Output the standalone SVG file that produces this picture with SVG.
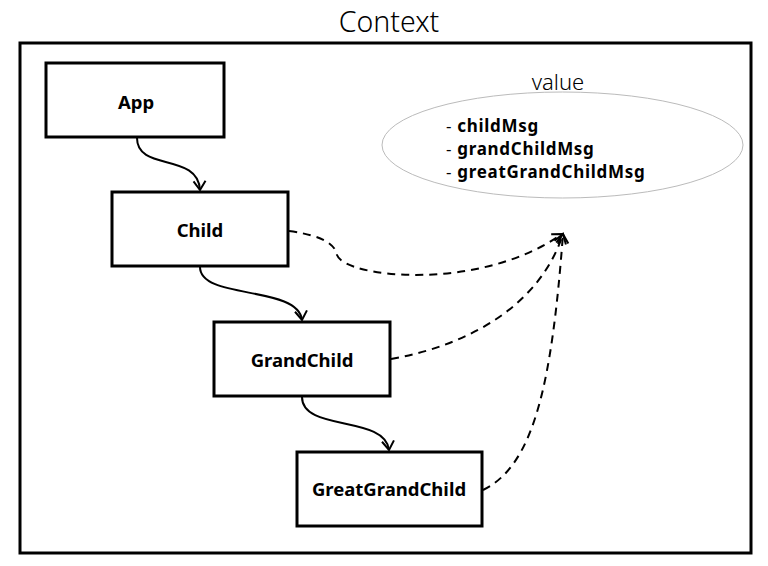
<svg xmlns="http://www.w3.org/2000/svg" width="768" height="566" viewBox="0 0 768 566">
<style>
.box{fill:#fff;stroke:#000;stroke-width:3}
.lbl{font-family:"Noto Sans","Open Sans",sans-serif;font-weight:bold;font-size:18.5px;fill:#000;text-anchor:middle}
.thin{font-family:"Noto Sans","Open Sans",sans-serif;font-weight:300;fill:#000;text-anchor:middle}
.solid{fill:none;stroke:#000;stroke-width:2;marker-end:url(#arr)}
.dash{fill:none;stroke:#000;stroke-width:2;stroke-dasharray:8 6;marker-end:url(#arr)}
.item{font-family:"Noto Sans","Open Sans",sans-serif;font-size:17px;letter-spacing:0.7px;fill:#000}
</style>
<defs>
<marker id="arr" markerUnits="userSpaceOnUse" markerWidth="20" markerHeight="20" viewBox="-12 -10 14 20" refX="0" refY="0" orient="auto">
<path d="M-9,-6 L0,0 L-9,6" fill="none" stroke="#000" stroke-width="2"/>
</marker>
</defs>
<rect width="768" height="566" fill="#fff"/>
<text class="thin" x="389" y="32" font-size="28.5">Context</text>
<rect x="20" y="43" width="731" height="510" fill="none" stroke="#000" stroke-width="3"/>
<g id="value">
<ellipse cx="562.5" cy="145" rx="180.5" ry="53" fill="#fff" stroke="#bbb" stroke-width="1"/>
<text class="thin" x="558" y="90" font-size="22">value</text>
<text class="item" x="446" y="132">- <tspan font-weight="bold">childMsg</tspan></text>
<text class="item" x="446" y="155">- <tspan font-weight="bold">grandChildMsg</tspan></text>
<text class="item" x="446" y="178">- <tspan font-weight="bold">greatGrandChildMsg</tspan></text>
</g>
<g id="App"><rect class="box" x="46" y="63" width="178" height="74"/><text class="lbl" x="136" y="109">App</text></g>
<g id="Child"><rect class="box" x="112" y="192" width="176" height="74"/><text class="lbl" x="200" y="237">Child</text></g>
<g id="GrandChild"><rect class="box" x="214" y="322" width="176" height="74"/><text class="lbl" x="302" y="367">GrandChild</text></g>
<g id="GreatGrandChild"><rect class="box" x="297" y="452" width="185" height="74"/><text class="lbl" x="389" y="496">GreatGrandChild</text></g>
<g id="connectors">
<path class="solid" d="M137,138 C137,172 198,152 200,190"/>
<path class="solid" d="M200,267 C200,300 298,285 302,320"/>
<path class="solid" d="M302,397 C302,432 385,415 389,450"/>
<path class="dash" d="M289,231 C325,236 335,245 337,255 C345,278 480,292 562,234"/>
<path class="dash" d="M391,359 C470,345 540,305 563,234"/>
<path class="dash" d="M483,490 C535,465 552,380 563,234"/>
</g>
</svg>
